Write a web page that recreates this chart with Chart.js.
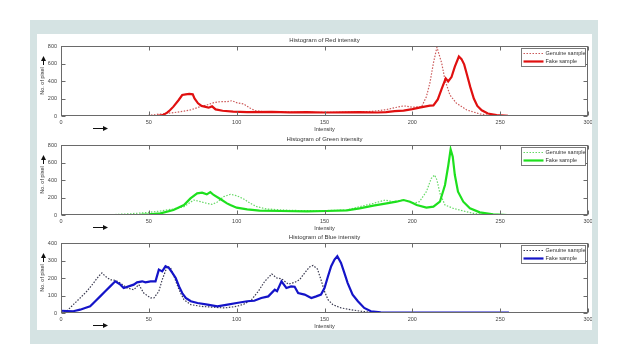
<!DOCTYPE html>
<html>
<head>
<meta charset="utf-8">
<script src="https://cdn.jsdelivr.net/npm/chart.js@4/dist/chart.umd.min.js"></script>
<style>
  html, body { margin: 0; padding: 0; background: #ffffff; }
  body { width: 626px; height: 344px; position: relative; overflow: hidden; }
  #frame { position: absolute; left: 30px; top: 20px; width: 568px; height: 324px; background: #d5e3e3; }
  #inner { position: absolute; left: 37px; top: 34px; width: 555px; height: 296px; background: #ffffff; overflow: hidden; }
  #inner canvas { position: absolute; left: -37px; }
</style>
</head>
<body>
<div id="frame"></div>
<div id="inner">
  <canvas id="cRed" width="626" height="104" style="top:-4px"></canvas>
  <canvas id="cGreen" width="626" height="104" style="top:95px"></canvas>
  <canvas id="cBlue" width="626" height="104" style="top:193px"></canvas>
</div>
<script>
// ---------------- data ----------------
const X_TICKS = [0, 50, 100, 150, 200, 250, 300];
const TITLES = ['Histogram of Red intensity', 'Histogram of Green intensity', 'Histogram of Blue intensity'];
const SERIES_NAMES = ['Genuine sample', 'Fake sample'];
const X_TITLE = 'Intensity';
const Y_TITLE = 'No. of pixel';

const RED_GENUINE_X = [0, 48, 50, 56.6, 64, 70, 73.7, 79.4, 83, 87, 90.7, 94.5, 97.3, 100, 104, 107.8, 110.6, 115, 125, 135, 145, 155, 165, 175, 180, 185, 190, 195, 200, 203, 205.3, 208, 210, 212, 214, 216.7, 218.6, 221.4, 225, 231, 238.5, 245, 250, 255];
const RED_GENUINE_Y = [0, 0, 8, 23, 38, 55, 69, 107, 126, 152, 164, 164, 175, 152, 137, 88, 61, 50, 45, 42, 40, 42, 45, 50, 60, 72, 95, 116, 100, 105, 107, 220, 377, 605, 785, 605, 411, 240, 148, 69, 23, 5, 2, 0];
const RED_FAKE_X = [0, 50, 55, 58, 60.4, 62, 64, 67, 69, 71, 73, 75, 76, 78, 80, 84, 86, 88, 92, 98, 106, 120, 130, 140, 150, 160, 170, 180, 185, 190, 195, 200, 204, 207, 210, 212, 214.5, 216.7, 219, 220.4, 222.3, 224.2, 226.5, 228, 229.5, 231, 233, 235, 237, 239.5, 243, 248, 254.5];
const RED_FAKE_Y = [0, 0, 2, 10, 38, 65, 107, 183, 240, 248, 252, 248, 200, 145, 115, 95, 110, 75, 60, 50, 45, 48, 42, 45, 40, 42, 44, 40, 45, 55, 62, 78, 95, 108, 118, 120, 190, 310, 430, 395, 445, 565, 680, 650, 590, 480, 330, 200, 115, 65, 28, 10, 3];

const GREEN_GENUINE_X = [0, 30, 40, 50, 56.6, 64, 70, 75.6, 79.4, 83, 86, 88.8, 92.6, 96.4, 100, 104, 107.8, 111.5, 117, 130.5, 145, 162.7, 170, 177.8, 184.5, 189, 195, 200.4, 204, 208, 210.8, 212.7, 214, 215.7, 218.6, 223.3, 229, 234.7, 242, 250];
const GREEN_GENUINE_Y = [0, 5, 15, 30, 46, 69, 95, 171, 152, 133, 122, 145, 210, 236, 221, 183, 133, 95, 69, 53, 48, 57, 95, 133, 171, 152, 171, 133, 152, 267, 419, 457, 400, 248, 114, 76, 46, 19, 4, 0];
const GREEN_FAKE_X = [0, 45, 50, 56.6, 64, 70, 73.7, 77.5, 80.3, 83, 85, 86.9, 90.7, 94.5, 96.4, 100, 106, 113, 125, 140, 151, 162.7, 170, 177.8, 185.4, 191, 195, 198.7, 202.5, 208, 212, 215.7, 218.6, 220.5, 221.8, 223, 224.2, 226, 229, 232.8, 238.4, 246, 254];
const GREEN_FAKE_Y = [0, 2, 8, 19, 57, 114, 190, 248, 255, 236, 262, 229, 183, 133, 114, 84, 65, 50, 46, 42, 46, 53, 76, 107, 133, 152, 171, 152, 114, 84, 95, 152, 343, 571, 750, 667, 457, 267, 152, 76, 30, 8, 0];

const BLUE_GENUINE_X = [0, 3.2, 7, 10.9, 14.7, 18.5, 21.4, 23.3, 25.2, 28, 30.9, 33.8, 37.6, 41.4, 44.3, 47.1, 51, 52.9, 55.7, 57.6, 60.5, 62.4, 64.3, 67.2, 70, 73.9, 79.6, 85.3, 93, 100, 104, 108.5, 112.3, 116, 120, 122.8, 125.6, 129.4, 133, 135.8, 138.7, 141.5, 143.5, 146, 148, 150, 152, 154.7, 159.4, 165, 170.7, 178, 200, 255];
const BLUE_GENUINE_Y = [4, 10, 48, 86, 124, 171, 210, 229, 210, 190, 187, 171, 143, 133, 162, 114, 86, 86, 124, 190, 267, 257, 210, 133, 76, 48, 38, 34, 29, 38, 50, 76, 124, 181, 223, 200, 195, 165, 175, 190, 229, 263, 272, 251, 190, 124, 76, 48, 29, 19, 10, 2, 0, 0];
const BLUE_FAKE_X = [0, 7, 10.9, 13.7, 16.6, 19.5, 22.3, 25.2, 28, 30.9, 33.8, 35.7, 38.5, 41.4, 43.3, 46.2, 48.1, 51, 53.8, 55.7, 57.6, 59.5, 61.5, 63.4, 65.3, 67.2, 69, 71, 73.9, 77.7, 83.4, 89, 94.8, 100, 106, 110, 114, 118, 121.7, 123, 125.5, 128.3, 131, 133, 135, 138.7, 142.5, 145.3, 148, 150, 152, 153.8, 155.7, 157.3, 159.4, 161.3, 163.2, 166, 169, 172.6, 176.4, 182, 190, 255];
const BLUE_FAKE_Y = [13, 10, 19, 29, 38, 67, 95, 124, 152, 181, 162, 143, 152, 162, 175, 181, 175, 181, 181, 248, 238, 267, 257, 229, 200, 152, 114, 86, 67, 57, 48, 38, 48, 57, 67, 70, 86, 95, 133, 125, 181, 143, 152, 150, 114, 105, 86, 95, 105, 143, 210, 267, 305, 325, 286, 229, 171, 105, 67, 29, 10, 4, 2, 2];

const RED_Y_TICKS = [0, 200, 400, 600, 800];
const GREEN_Y_TICKS = [0, 200, 400, 600, 800];
const BLUE_Y_TICKS = [0, 100, 200, 300, 400];

// ---------------- drawing ----------------
const FONT = "'Liberation Sans', Arial, sans-serif";
const pairs = (xs, ys) => xs.map((x, i) => ({ x: x, y: ys[i] }));

const boxPlugin = {
  id: 'boxTicks',
  afterDatasetsDraw(chart) {
    const { ctx, chartArea: a, scales: { x, y } } = chart;
    ctx.save();
    ctx.strokeStyle = '#6a6a6a';
    ctx.lineWidth = 1;
    const L = Math.round(a.left) + 0.5, R = Math.round(a.right) - 0.5;
    const T = Math.round(a.top) + 0.5, B = Math.round(a.bottom) - 0.5;
    ctx.strokeRect(L, T, R - L, B - T);
    ctx.beginPath();
    x.ticks.forEach(t => {
      const px = Math.round(x.getPixelForValue(t.value)) + 0.5;
      ctx.moveTo(px, B); ctx.lineTo(px, B - 4);
      ctx.moveTo(px, T); ctx.lineTo(px, T + 4);
    });
    y.ticks.forEach(t => {
      const py = Math.round(y.getPixelForValue(t.value)) + 0.5;
      ctx.moveTo(L, py); ctx.lineTo(L + 4, py);
      ctx.moveTo(R, py); ctx.lineTo(R - 4, py);
    });
    ctx.stroke();

    // direction arrows
    ctx.fillStyle = '#111';
    ctx.strokeStyle = '#111';
    const ay = a.bottom + 12.5;
    const ax0 = a.left + 32, ax1 = a.left + 47;
    ctx.beginPath(); ctx.moveTo(ax0, ay); ctx.lineTo(ax1 - 4, ay); ctx.stroke();
    ctx.beginPath(); ctx.moveTo(ax1, ay); ctx.lineTo(ax1 - 5, ay - 2.5); ctx.lineTo(ax1 - 5, ay + 2.5); ctx.closePath(); ctx.fill();
    const vx = 43.5, vy0 = a.top + 19, vy1 = a.top + 10;
    ctx.beginPath(); ctx.moveTo(vx, vy0); ctx.lineTo(vx, vy1 + 4); ctx.stroke();
    ctx.beginPath(); ctx.moveTo(vx, vy1); ctx.lineTo(vx - 2.5, vy1 + 5); ctx.lineTo(vx + 2.5, vy1 + 5); ctx.closePath(); ctx.fill();

    // legend box
    const bw = 64, bh = 18;
    const bx = Math.round(a.right - 3 - bw) + 0.5, by = Math.round(a.top + 2) + 0.5;
    ctx.fillStyle = '#ffffff';
    ctx.fillRect(bx, by, bw, bh);
    ctx.strokeStyle = '#7a7a7a';
    ctx.lineWidth = 1;
    ctx.strokeRect(bx, by, bw, bh);
    ctx.font = "5.5px " + FONT;
    ctx.textBaseline = 'middle';
    ctx.textAlign = 'left';
    chart.data.datasets.forEach((ds, i) => {
      const ry = by + 5 + i * 8;
      ctx.save();
      ctx.strokeStyle = ds.borderColor;
      ctx.lineWidth = ds.borderWidth;
      ctx.setLineDash(ds.borderDash || []);
      ctx.beginPath(); ctx.moveTo(bx + 2, ry); ctx.lineTo(bx + 22, ry); ctx.stroke();
      ctx.restore();
      ctx.fillStyle = '#333';
      ctx.fillText(ds.label, bx + 24, ry);
    });
    ctx.restore();
  }
};

function makeChart(id, title, yTicks, genX, genY, fakeX, fakeY, genColor, fakeColor) {
  return new Chart(document.getElementById(id), {
    type: 'line',
    data: {
      datasets: [
        { label: SERIES_NAMES[0], data: pairs(genX, genY), borderColor: genColor, borderWidth: 1.2, borderDash: [1.5, 1.5], pointRadius: 0, tension: 0, order: 1, fill: false },
        { label: SERIES_NAMES[1], data: pairs(fakeX, fakeY), borderColor: fakeColor, borderWidth: 2.2, pointRadius: 0, tension: 0, order: 0, fill: false }
      ]
    },
    options: {
      responsive: false,
      animation: false,
      devicePixelRatio: 1,
      layout: { padding: { left: 0, right: 38, top: 0, bottom: 0 } },
      plugins: {
        legend: { display: false },
        tooltip: { enabled: false },
        title: { display: true, fullSize: false, text: title, color: '#333', font: { size: 6, family: FONT, weight: 'normal', lineHeight: 1 }, padding: { top: 7, bottom: 3 } }
      },
      scales: {
        x: {
          type: 'linear', min: X_TICKS[0], max: X_TICKS[X_TICKS.length - 1],
          afterBuildTicks: s => { s.ticks = X_TICKS.map(v => ({ value: v })); },
          grid: { display: false, drawTicks: false, tickLength: 0 }, border: { display: false },
          ticks: { color: '#444', font: { size: 5.5, family: FONT }, padding: 3, maxRotation: 0, autoSkip: false },
          title: { display: true, text: X_TITLE, color: '#333', font: { size: 5.5, family: FONT, lineHeight: 1 }, padding: { top: 0, bottom: 2 } },
          afterFit: s => { s.height = 18; }
        },
        y: {
          type: 'linear', min: yTicks[0], max: yTicks[yTicks.length - 1],
          afterBuildTicks: s => { s.ticks = yTicks.map(v => ({ value: v })); },
          grid: { display: false, drawTicks: false, tickLength: 0 }, border: { display: false },
          ticks: { color: '#444', font: { size: 5.5, family: FONT }, padding: 4 },
          title: { display: true, text: Y_TITLE, color: '#333', font: { size: 5.5, family: FONT, lineHeight: 1 }, padding: { top: 40, bottom: 0 } },
          afterFit: s => { s.width = 61; }
        }
      }
    },
    plugins: [boxPlugin]
  });
}

makeChart('cRed', TITLES[0], RED_Y_TICKS, RED_GENUINE_X, RED_GENUINE_Y, RED_FAKE_X, RED_FAKE_Y, '#cc5a5a', '#e01010');
makeChart('cGreen', TITLES[1], GREEN_Y_TICKS, GREEN_GENUINE_X, GREEN_GENUINE_Y, GREEN_FAKE_X, GREEN_FAKE_Y, '#66d866', '#1ee01e');
makeChart('cBlue', TITLES[2], BLUE_Y_TICKS, BLUE_GENUINE_X, BLUE_GENUINE_Y, BLUE_FAKE_X, BLUE_FAKE_Y, '#3a3a50', '#1414c8');
</script>
</body>
</html>
